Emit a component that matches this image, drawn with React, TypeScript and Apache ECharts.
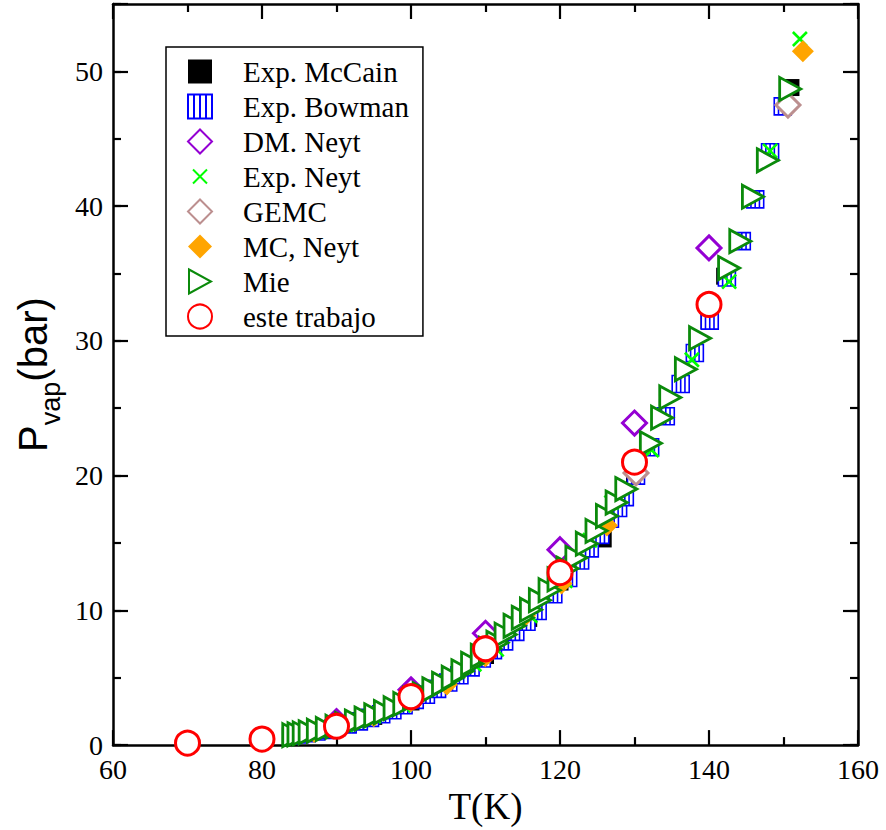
import React, { useEffect, useRef } from 'react';
import * as echarts from 'echarts';

// ---- data (T in K, P in bar) ----
const mccainT = [83.8, 87.3, 90, 95, 100, 105, 110, 113.8, 115.8, 120, 125.8, 130, 134.2, 140, 142.1, 144.4, 148.2, 151.0];
const mccainP = [0.69, 1.01, 1.33, 2.13, 3.2, 4.65, 6.65, 8.9, 9.4, 12.1, 15.3, 20.1, 24.4, 31.5, 34.8, 37.4, 44.0, 48.8];

const bowmanT = [84.0, 85.0, 86.0, 87.3, 88.5, 90.0, 91.5, 93.0, 94.5, 96.0, 97.5, 99.0, 100.5, 102.0, 103.5, 105.0, 106.5, 108.0, 109.5, 111.0, 112.5, 114.0, 115.5, 117.0, 119.1, 121.1, 122.7, 124.0, 125.4, 126.7, 127.8, 128.7, 130.2, 132.1, 134.2, 136.2, 138.1, 140.1, 142.4, 144.4, 146.2, 148.2, 149.9];
const bowmanP = [0.71, 0.79, 0.89, 1.01, 1.13, 1.34, 1.54, 1.76, 2.02, 2.29, 2.59, 2.96, 3.36, 3.74, 4.17, 4.65, 5.18, 5.77, 6.43, 7.05, 7.7, 8.4, 9.15, 9.95, 11.2, 12.4, 13.7, 14.6, 15.6, 16.8, 17.6, 18.4, 20.0, 22.1, 24.4, 26.8, 29.1, 31.5, 34.7, 37.4, 40.5, 44.0, 47.4];

const dmNeytT = [90, 100, 110, 120, 130, 140];
const dmNeytP = [1.75, 4.1, 8.3, 14.5, 23.9, 36.9];

const expNeytT = [84.5, 88.0, 91.2, 95.0, 99.0, 104.0, 108.5, 111.5, 116.0, 120.7, 124.0, 126.9, 132.3, 137.7, 142.7, 148.2, 152.2];
const expNeytP = [0.74, 1.1, 1.5, 2.15, 2.95, 4.3, 6.0, 7.1, 9.6, 12.2, 15.2, 18.0, 21.9, 28.6, 34.4, 44.1, 52.4];

const gemcT = [130.2, 150.6];
const gemcP = [20.2, 47.5];

const mcNeytT = [87.0, 90.0, 95.0, 100.0, 104.8, 110.0, 115.3, 120.2, 126.3, 152.6];
const mcNeytP = [0.97, 1.33, 2.15, 3.25, 4.5, 6.6, 9.6, 12.0, 16.3, 51.5];

const mieT = [84.2, 84.9, 85.6, 86.4, 87.5, 88.7, 90.0, 91.3, 92.6, 93.9, 95.2, 96.5, 97.8, 99.1, 100.4, 101.7, 103.0, 104.3, 105.6, 106.9, 108.2, 109.5, 110.6, 111.6, 112.7, 113.9, 115.0, 116.1, 117.3, 118.6, 119.8, 121.0, 122.2, 123.6, 124.9, 126.3, 127.6, 128.9, 132.2, 133.7, 134.8, 136.9, 138.8, 142.7, 144.2, 145.9, 147.9, 150.9];
const mieP = [0.74, 0.80, 0.87, 0.95, 1.07, 1.2, 1.37, 1.56, 1.75, 1.97, 2.21, 2.45, 2.74, 3.06, 3.44, 3.77, 4.14, 4.55, 5.0, 5.48, 6.03, 6.63, 7.15, 7.6, 8.2, 8.85, 9.45, 10.05, 10.75, 11.5, 12.3, 13.1, 13.9, 14.95, 15.9, 17.0, 18.0, 19.0, 22.4, 24.3, 25.8, 27.9, 30.2, 35.4, 37.4, 40.7, 43.4, 48.7];

const esteT = [70, 80, 90, 100, 110, 120, 130, 140];
const esteP = [0.15, 0.45, 1.4, 3.6, 7.15, 12.8, 21.0, 32.7];

const seriesNames = ['Exp. McCain', 'Exp. Bowman', 'DM. Neyt', 'Exp. Neyt', 'GEMC', 'MC, Neyt', 'Mie', 'este trabajo'];

const xTicks = { min: 60, max: 160, interval: 20 };
const yTicks = { min: 0, max: 55, interval: 10, minorInterval: 5 };

// ---- symbols ----
const SQ = 'path://M0,0H10V10H0Z';
const BOW = 'path://M0,0H12V12H0Z M3,0V12 M6,0V12 M9,0V12';
const DIA = 'path://M6,0L12,6L6,12L0,6Z';
const XM = 'path://M0,0M24,24M5,5L19,19M19,5L5,19';
const TRI = 'path://M0,0L11,6L0,12Z';

const zip = (a: number[], b: number[]) => a.map((v, i) => [v, b[i]]);

const SERIF = 'Liberation Serif';
const SANS = 'Liberation Sans';

export default function App() {
  const ref = useRef<HTMLDivElement>(null);
  useEffect(() => {
    if (!ref.current) return;
    const chart = echarts.init(ref.current, null, { renderer: 'svg' });
    const lineStyle = { color: '#000', width: 2.5 };
    const mkX = (pos: 'bottom' | 'top', labels: boolean) => ({
      type: 'value',
      position: pos,
      min: xTicks.min,
      max: xTicks.max,
      interval: xTicks.interval,
      axisLine: { show: true, onZero: false, lineStyle },
      axisTick: { show: true, inside: true, length: 15, lineStyle: { color: '#000', width: 2.2 } },
      minorTick: { show: true, splitNumber: 2, length: 8, lineStyle: { color: '#000', width: 2.2 } },
      splitLine: { show: false },
      minorSplitLine: { show: false },
      axisLabel: labels
        ? { show: true, margin: 10, fontFamily: SERIF, fontSize: 28, color: '#000' }
        : { show: false },
      ...(labels
        ? {
            name: 'T(K)',
            nameLocation: 'middle',
            nameGap: 34,
            nameTextStyle: { fontFamily: SERIF, fontSize: 37, color: '#000' },
          }
        : {}),
    });
    const mkY = (pos: 'left' | 'right', major: boolean, labels: boolean, line: boolean) => ({
      type: 'value',
      position: pos,
      min: yTicks.min,
      max: yTicks.max,
      interval: major ? yTicks.interval : yTicks.minorInterval,
      axisLine: { show: line, onZero: false, lineStyle },
      axisTick: { show: true, inside: true, length: major ? 15 : 8, lineStyle: { color: '#000', width: 2.2 } },
      splitLine: { show: false },
      axisLabel: labels
        ? {
            show: true,
            margin: 10,
            fontFamily: SERIF,
            fontSize: 28,
            color: '#000',
            formatter: (v: number) => (v % yTicks.interval === 0 ? String(v) : ''),
          }
        : { show: false },
      ...(labels
        ? {
            name: '{p|P}{s|vap}{p|(bar)}',
            nameLocation: 'middle',
            nameGap: 22,
            nameRotate: 90,
            nameTextStyle: {
              color: '#000',
              fontFamily: SANS,
              rich: {
                p: { fontFamily: SANS, fontSize: 40, lineHeight: 44, verticalAlign: 'top', color: '#000' },
                s: { fontFamily: SANS, fontSize: 27, lineHeight: 76, verticalAlign: 'middle', color: '#000' },
              },
            },
          }
        : {}),
    });

    const base = { type: 'scatter', xAxisIndex: 0, yAxisIndex: 0, clip: false, symbolKeepAspect: true, emphasis: { disabled: true } };

    chart.setOption({
      animation: false,
      backgroundColor: '#fff',
      grid: { left: 113, right: 28, top: 4, bottom: 80, containLabel: false },
      xAxis: [mkX('bottom', true), mkX('top', false)],
      yAxis: [mkY('left', true, true, true), mkY('left', false, false, false), mkY('right', true, false, true), mkY('right', false, false, false)],
      legend: {
        show: true,
        orient: 'vertical',
        left: 166,
        top: 47,
        data: seriesNames,
        selectedMode: false,
        itemWidth: 64,
        itemHeight: 24,
        itemGap: 6,
        symbolKeepAspect: true,
        padding: [10, 14, 5, 21],
        borderColor: '#000',
        borderWidth: 1.5,
        backgroundColor: '#fff',
        textStyle: { fontFamily: SERIF, fontSize: 29, lineHeight: 29, color: '#000', padding: [0, 0, 0, 6] },
      },
      series: [
        { ...base, name: seriesNames[0], data: zip(mccainT, mccainP), symbol: SQ, symbolSize: 17, itemStyle: { color: '#000', borderWidth: 0, opacity: 1 } },
        { ...base, name: seriesNames[1], data: zip(bowmanT, bowmanP), symbol: BOW, symbolSize: 17, itemStyle: { color: '#fff', borderColor: '#0000ff', borderWidth: 1.6, opacity: 1 } },
        { ...base, name: seriesNames[2], data: zip(dmNeytT, dmNeytP), symbol: DIA, symbolSize: 24, itemStyle: { color: '#fff', borderColor: '#9400d3', borderWidth: 3, opacity: 1 } },
        { ...base, name: seriesNames[3], data: zip(expNeytT, expNeytP), symbol: XM, symbolSize: 24, itemStyle: { color: '#00ff00', borderColor: '#00ff00', borderWidth: 2.6, opacity: 1 } },
        { ...base, name: seriesNames[4], data: zip(gemcT, gemcP), symbol: DIA, symbolSize: 24, itemStyle: { color: '#fff', borderColor: '#bc8f8f', borderWidth: 3, opacity: 1 } },
        { ...base, name: seriesNames[5], data: zip(mcNeytT, mcNeytP), symbol: DIA, symbolSize: 22, itemStyle: { color: '#ffa500', borderWidth: 0, opacity: 1 } },
        { ...base, name: seriesNames[6], data: zip(mieT, mieP), symbol: TRI, symbolSize: 23, itemStyle: { color: '#fff', borderColor: '#0b8a0b', borderWidth: 2.8, opacity: 1 } },
        { ...base, name: seriesNames[7], data: zip(esteT, esteP), symbol: 'circle', symbolSize: 24, itemStyle: { color: '#fff', borderColor: '#ff0000', borderWidth: 3, opacity: 1 } },
      ],
    });
    return () => chart.dispose();
  }, []);
  return <div ref={ref} style={{ position: 'absolute', left: 0, top: 0, width: 886, height: 830 }} />;
}
